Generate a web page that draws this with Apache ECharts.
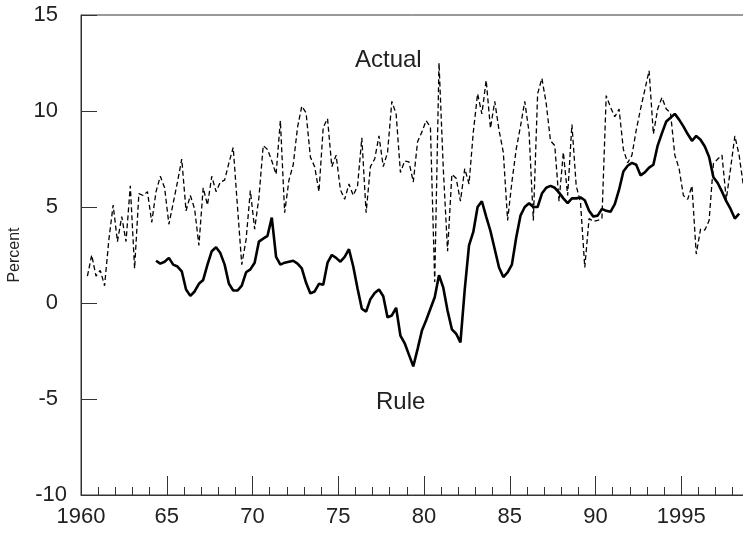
<!DOCTYPE html>
<html>
<head>
<meta charset="utf-8">
<script src="https://cdn.jsdelivr.net/npm/echarts@6/dist/echarts.min.js"></script>
<style>html,body{margin:0;padding:0;background:#fff;overflow:hidden}#c{width:743px;height:536px}</style>
</head>
<body>
<div id="c"></div>
<script>
// Quarterly data, first quarter plotted for each series
var actualStart = 1960.375;
var ruleStart = 1964.375;
var actual = [1.4,2.5,1.4,1.7,0.9,3.3,5.1,3.2,4.5,3.2,
  6.1,1.8,5.7,5.6,5.8,4.2,5.8,6.6,6.0,4.1,
  5.2,6.3,7.5,4.8,5.6,4.9,3.0,6.0,5.1,6.6,
  5.8,6.3,6.4,7.3,8.1,5.0,2.0,3.3,5.85,3.85,
  5.5,8.2,8.0,7.4,6.7,9.5,4.7,6.4,7.2,9.15,
  10.25,9.9,7.6,7.1,5.8,9.15,9.6,7.1,7.7,5.9,
  5.4,6.2,5.6,6.1,8.6,4.7,7.1,7.5,8.7,7.1,
  7.85,10.5,9.85,6.8,7.4,7.35,6.3,8.4,8.9,9.5,
  9.15,1.1,12.5,7.0,2.7,6.7,6.5,5.3,7.0,6.2,
  8.9,10.9,9.85,11.6,9.1,10.5,9.0,7.85,4.3,6.3,
  8.0,9.2,10.5,8.9,4.3,10.9,11.7,10.4,8.45,8.2,
  5.3,7.85,5.6,9.3,6.1,5.25,1.85,4.4,4.25,4.3,
  4.4,10.8,10.2,9.7,10.1,8.0,7.3,7.7,9.0,10.1,
  11.1,12.1,8.8,10.1,10.7,10.1,9.9,7.7,7.0,5.6,
  5.4,6.1,2.55,3.85,3.8,4.3,7.25,7.5,7.7,5.4,
  7.0,8.7,7.7,6.1];
var rule = [2.2,2.05,2.15,2.35,2.0,1.9,1.65,0.7,0.37,0.6,
  1.0,1.2,2.0,2.7,2.9,2.6,2.0,1.0,0.65,0.65,
  0.9,1.6,1.75,2.1,3.2,3.35,3.5,4.45,2.4,2.0,
  2.1,2.15,2.2,2.05,1.8,1.05,0.5,0.6,1.0,0.95,
  2.1,2.5,2.35,2.15,2.4,2.8,1.9,0.75,-0.3,-0.45,
  0.2,0.52,0.7,0.35,-0.75,-0.65,-0.25,-1.7,-2.1,-2.7,
  -3.3,-2.4,-1.45,-0.9,-0.3,0.3,1.45,0.8,-0.4,-1.37,
  -1.6,-2.05,0.7,3.0,3.7,5.0,5.3,4.5,3.75,2.8,
  1.85,1.35,1.6,2.0,3.4,4.55,5.0,5.2,5.0,5.0,
  5.7,6.0,6.1,6.0,5.75,5.45,5.2,5.45,5.45,5.5,
  5.35,4.8,4.5,4.55,4.9,4.8,4.75,5.15,5.9,6.85,
  7.15,7.3,7.2,6.65,6.8,7.05,7.2,8.2,8.85,9.45,
  9.65,9.85,9.55,9.2,8.8,8.45,8.7,8.5,8.15,7.6,
  6.55,6.25,5.8,5.3,4.9,4.4,4.65];
var xTickValues = [1960,1965,1970,1975,1980,1985,1990,1995];
var xTickLabels = ['1960','65','70','75','80','85','90','1995'];
var yTickValues = [-5,0,5,10,15];
var yBottomValue = [-10];

function pairs(start, vals){ return vals.map(function(v,i){ return [start + i*0.25, v]; }); }

var font = 'Liberation Sans, Arial, Helvetica, sans-serif';
var axisCol = '#333';
var chart = echarts.init(document.getElementById('c'), null, {renderer:'canvas'});
chart.setOption({
  animation:false,
  backgroundColor:'#fff',
  grid:{left:81, right:-24, top:15, bottom:41, outerBoundsMode:'none', containLabel:false,
    show:true, borderColor:axisCol, borderWidth:1, backgroundColor:'transparent'},
  xAxis:{type:'value', min:1960, max:2000, interval:5, position:'bottom',
    axisLine:{show:true, onZero:false, lineStyle:{color:axisCol, width:1}},
    axisTick:{show:true, inside:true, length:19, lineStyle:{color:axisCol, width:1}},
    minorTick:{show:true, splitNumber:5, length:8, lineStyle:{color:axisCol, width:1}},
    splitLine:{show:false}, minorSplitLine:{show:false},
    axisLabel:{show:true, customValues:xTickValues, margin:11, fontSize:22, fontFamily:font, color:'#222',
      formatter:function(v){ var k = xTickValues.indexOf(v); return k>=0 ? xTickLabels[k] : ''; }}
  },
  yAxis:[{type:'value', min:-10, max:15, interval:5, position:'left',
    name:'Percent', nameLocation:'middle', nameRotate:90, nameGap:57,
    nameTextStyle:{fontSize:16, fontFamily:font, color:'#222'},
    axisLine:{show:true, onZero:false, lineStyle:{color:axisCol, width:1}},
    axisTick:{show:true, inside:true, length:16, lineStyle:{color:axisCol, width:1}},
    splitLine:{show:false},
    axisLabel:{customValues:yTickValues, margin:23, fontSize:22, fontFamily:font, color:'#222'}
  },{type:'value', min:-10, max:15, interval:5, position:'left', offset:-9,
    axisLine:{show:false, onZero:false}, axisTick:{show:false}, splitLine:{show:false},
    axisLabel:{customValues:yBottomValue, margin:23, fontSize:22, fontFamily:font, color:'#222'}
  }],
  series:[
    {name:'Actual', type:'line', data:pairs(actualStart, actual), symbol:'none', clip:true,
     lineStyle:{color:'#000', width:1.3, type:[5,3]}},
    {name:'Rule', type:'line', data:pairs(ruleStart, rule), symbol:'none', clip:true,
     lineStyle:{color:'#000', width:2.6}}
  ],
  graphic:[
    {type:'text', left:355, top:48, style:{text:'Actual', font:'24px '+font, fill:'#222'}},
    {type:'text', left:376, top:390, style:{text:'Rule', font:'24px '+font, fill:'#222'}}
  ]
});
</script>
</body>
</html>
